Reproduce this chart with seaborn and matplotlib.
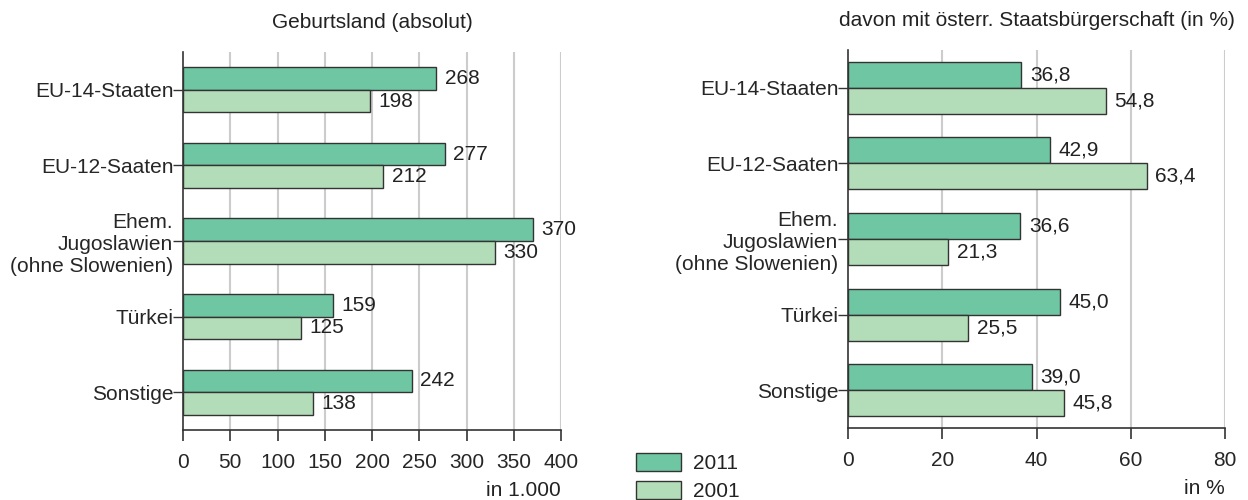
import matplotlib
matplotlib.use('Agg')
import matplotlib.pyplot as plt
import seaborn as sns
import pandas as pd
from matplotlib.patches import Patch

# ============================================================
# DATA
# ============================================================
categories = ['EU-14-Staaten', 'EU-12-Saaten', 'Ehem.\nJugoslawien\n(ohne Slowenien)',
              'Türkei', 'Sonstige']
years = ['2011', '2001']
absolut_2011 = [268, 277, 370, 159, 242]
absolut_2001 = [198, 212, 330, 125, 138]
anteil_2011 = [36.8, 42.9, 36.6, 45.0, 39.0]
anteil_2001 = [54.8, 63.4, 21.3, 25.5, 45.8]
left_ticks = [0, 50, 100, 150, 200, 250, 300, 350, 400]
right_ticks = [0, 20, 40, 60, 80]

colors = {'2011': '#6fc6a3', '2001': '#b3dcb8'}
edge = '#333333'
FS = 15


def long_df(v2011, v2001):
    return pd.DataFrame({
        'Land': categories * 2,
        'Jahr': ['2011'] * len(categories) + ['2001'] * len(categories),
        'Wert': list(v2011) + list(v2001),
    })


sns.set_style('white')
plt.rcParams['font.family'] = ['Liberation Sans', 'DejaVu Sans']
plt.rcParams['text.color'] = '#222222'

fig = plt.figure(figsize=(12.48, 5.0), dpi=100)
ax1 = fig.add_axes([183 / 1248, 1 - 430 / 500, 378 / 1248, 378 / 500])
ax2 = fig.add_axes([848 / 1248, 1 - 428 / 500, 377 / 1248, 378 / 500])


def draw(ax, df, width, ticks, xmax, fmt, title, unit):
    sns.barplot(data=df, y='Land', x='Wert', hue='Jahr', hue_order=years,
                palette=colors, orient='h', width=width, ax=ax,
                edgecolor=edge, linewidth=1.0, legend=False, saturation=1)
    for cont in ax.containers:
        vals = cont.datavalues
        ax.bar_label(cont, labels=[fmt(v) for v in vals], padding=6,
                     fontsize=FS, color='#222222')
    ax.set_xlim(0, xmax)
    ax.set_ylim(len(categories) - 0.5, -0.5)
    ax.set_xticks(ticks)
    ax.set_xticklabels([str(t) for t in ticks], fontsize=FS)
    ax.set_xlabel('')
    ax.set_ylabel('')
    for t in ticks[1:]:
        ax.axvline(t, color='#cccccc', lw=1.5, zorder=0)
    for s in ['top', 'right']:
        ax.spines[s].set_visible(False)
    for s in ['left', 'bottom']:
        ax.spines[s].set_color(edge)
        ax.spines[s].set_linewidth(1.2)
    ax.tick_params(axis='x', bottom=True, direction='out', length=8, width=1.2,
                   color=edge, pad=8.5)
    ax.tick_params(axis='y', left=True, direction='out', length=7, width=1.0,
                   color=edge, pad=0, labelsize=FS)
    for lab in ax.get_yticklabels():
        lab.set_multialignment('right')
    ax.set_title(title, fontsize=FS, pad=17)
    ax.text(1.0, -0.135, unit, transform=ax.transAxes, ha='right', va='top', fontsize=FS)


draw(ax1, long_df(absolut_2011, absolut_2001), 0.6, left_ticks, 400,
     lambda v: f'{v:.0f}', 'Geburtsland (absolut)', 'in 1.000')
draw(ax2, long_df(anteil_2011, anteil_2001), 0.69, right_ticks, 80,
     lambda v: f'{v:.1f}'.replace('.', ','),
     'davon mit österr. Staatsbürgerschaft (in %)', 'in %')

handles = [Patch(facecolor=colors[y], edgecolor=edge, linewidth=1.0) for y in years]
fig.legend(handles, years, loc='upper left', bbox_to_anchor=(630 / 1248, 1 - 447 / 500),
           frameon=False, fontsize=FS, handlelength=2.15, handleheight=0.95,
           labelspacing=0.36, handletextpad=0.55, borderaxespad=0, borderpad=0.3)

fig.savefig('out.png', dpi=100)
